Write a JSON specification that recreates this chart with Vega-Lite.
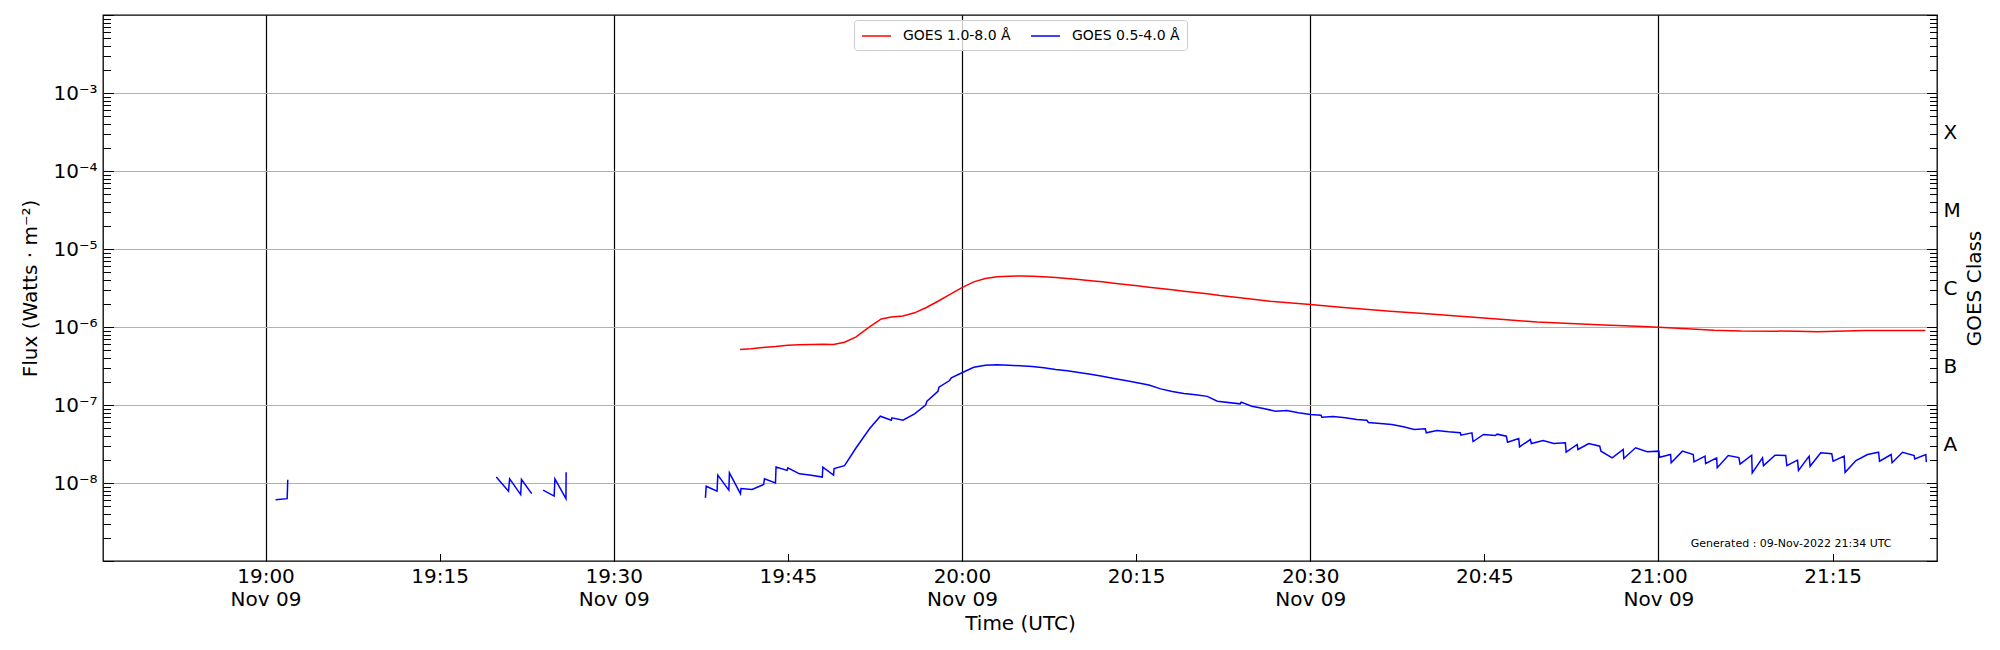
{
  "$schema": "https://vega.github.io/schema/vega-lite/v6.json",
  "width": 1834,
  "height": 546,
  "autosize": "none",
  "padding": {"left": 103, "top": 15, "right": 63, "bottom": 89},
  "config": {
    "font": "DejaVu Sans",
    "view": {"stroke": "black", "strokeWidth": 1.3},
    "axis": {"labelColor": "black", "titleColor": "black", "tickColor": "black", "titleFontWeight": "normal", "labelOverlap": false, "labelFlush": false, "domain": false}
  },
  "encoding": {
    "x": {
      "field": "t",
      "type": "temporal",
      "scale": {
        "type": "utc",
        "nice": false,
        "domain": [
          {"year": 2022, "month": 11, "date": 9, "hours": 18, "minutes": 46, "utc": true},
          {"year": 2022, "month": 11, "date": 9, "hours": 21, "minutes": 24, "utc": true}
        ]
      },
      "axis": {
        "title": "Time (UTC)",
        "titleFontSize": 20,
        "titlePadding": 4,
        "labelFontSize": 20,
        "labelLineHeight": 23,
        "labelPadding": 13,
        "tickSize": -7.5,
        "tickWidth": 1,
        "values": [
          {"year": 2022, "month": 11, "date": 9, "hours": 19, "minutes": 0, "utc": true},
          {"year": 2022, "month": 11, "date": 9, "hours": 19, "minutes": 15, "utc": true},
          {"year": 2022, "month": 11, "date": 9, "hours": 19, "minutes": 30, "utc": true},
          {"year": 2022, "month": 11, "date": 9, "hours": 19, "minutes": 45, "utc": true},
          {"year": 2022, "month": 11, "date": 9, "hours": 20, "minutes": 0, "utc": true},
          {"year": 2022, "month": 11, "date": 9, "hours": 20, "minutes": 15, "utc": true},
          {"year": 2022, "month": 11, "date": 9, "hours": 20, "minutes": 30, "utc": true},
          {"year": 2022, "month": 11, "date": 9, "hours": 20, "minutes": 45, "utc": true},
          {"year": 2022, "month": 11, "date": 9, "hours": 21, "minutes": 0, "utc": true},
          {"year": 2022, "month": 11, "date": 9, "hours": 21, "minutes": 15, "utc": true}
        ],
        "labelExpr": "utcminutes(datum.value) % 30 == 0 ? [utcFormat(datum.value, '%H:%M'), utcFormat(datum.value, '%b %d')] : utcFormat(datum.value, '%H:%M')",
        "grid": true,
        "gridColor": "black",
        "gridWidth": 1.2,
        "gridOpacity": {"condition": {"test": "utcminutes(datum.value) % 30 == 0", "value": 1}, "value": 0}
      }
    }
  },
  "layer": [
    {
      "data": {
        "values": [
          {"t": "2022-11-09T19:00:52Z", "flux": 6.1e-9, "s": "GOES 0.5-4.0 Å", "seg": "a"},
          {"t": "2022-11-09T19:01:52Z", "flux": 6.3e-9, "s": "GOES 0.5-4.0 Å", "seg": "a"},
          {"t": "2022-11-09T19:01:55Z", "flux": 1.1e-8, "s": "GOES 0.5-4.0 Å", "seg": "a"},
          {"t": "2022-11-09T19:19:53Z", "flux": 1.19e-8, "s": "GOES 0.5-4.0 Å", "seg": "b"},
          {"t": "2022-11-09T19:20:56Z", "flux": 7.85e-9, "s": "GOES 0.5-4.0 Å", "seg": "b"},
          {"t": "2022-11-09T19:21:02Z", "flux": 1.13e-8, "s": "GOES 0.5-4.0 Å", "seg": "b"},
          {"t": "2022-11-09T19:21:59Z", "flux": 7.1e-9, "s": "GOES 0.5-4.0 Å", "seg": "b"},
          {"t": "2022-11-09T19:22:03Z", "flux": 1.11e-8, "s": "GOES 0.5-4.0 Å", "seg": "b"},
          {"t": "2022-11-09T19:22:56Z", "flux": 7.3e-9, "s": "GOES 0.5-4.0 Å", "seg": "b"},
          {"t": "2022-11-09T19:23:55Z", "flux": 8.1e-9, "s": "GOES 0.5-4.0 Å", "seg": "c"},
          {"t": "2022-11-09T19:24:52Z", "flux": 6.8e-9, "s": "GOES 0.5-4.0 Å", "seg": "c"},
          {"t": "2022-11-09T19:24:56Z", "flux": 1.13e-8, "s": "GOES 0.5-4.0 Å", "seg": "c"},
          {"t": "2022-11-09T19:25:53Z", "flux": 6.3e-9, "s": "GOES 0.5-4.0 Å", "seg": "c"},
          {"t": "2022-11-09T19:25:54Z", "flux": 1.37e-8, "s": "GOES 0.5-4.0 Å", "seg": "c"},
          {"t": "2022-11-09T19:37:54Z", "flux": 6.45e-9, "s": "GOES 0.5-4.0 Å", "seg": "d"},
          {"t": "2022-11-09T19:37:58Z", "flux": 9.1e-9, "s": "GOES 0.5-4.0 Å", "seg": "d"},
          {"t": "2022-11-09T19:38:54Z", "flux": 7.85e-9, "s": "GOES 0.5-4.0 Å", "seg": "d"},
          {"t": "2022-11-09T19:38:58Z", "flux": 1.26e-8, "s": "GOES 0.5-4.0 Å", "seg": "d"},
          {"t": "2022-11-09T19:39:55Z", "flux": 8.1e-9, "s": "GOES 0.5-4.0 Å", "seg": "d"},
          {"t": "2022-11-09T19:39:58Z", "flux": 1.35e-8, "s": "GOES 0.5-4.0 Å", "seg": "d"},
          {"t": "2022-11-09T19:40:55Z", "flux": 7.3e-9, "s": "GOES 0.5-4.0 Å", "seg": "d"},
          {"t": "2022-11-09T19:40:58Z", "flux": 8.5e-9, "s": "GOES 0.5-4.0 Å", "seg": "d"},
          {"t": "2022-11-09T19:41:55Z", "flux": 8.26e-9, "s": "GOES 0.5-4.0 Å", "seg": "d"},
          {"t": "2022-11-09T19:42:55Z", "flux": 9.57e-9, "s": "GOES 0.5-4.0 Å", "seg": "d"},
          {"t": "2022-11-09T19:42:59Z", "flux": 1.13e-8, "s": "GOES 0.5-4.0 Å", "seg": "d"},
          {"t": "2022-11-09T19:43:56Z", "flux": 1.0e-8, "s": "GOES 0.5-4.0 Å", "seg": "d"},
          {"t": "2022-11-09T19:43:59Z", "flux": 1.6e-8, "s": "GOES 0.5-4.0 Å", "seg": "d"},
          {"t": "2022-11-09T19:44:56Z", "flux": 1.45e-8, "s": "GOES 0.5-4.0 Å", "seg": "d"},
          {"t": "2022-11-09T19:45:00Z", "flux": 1.57e-8, "s": "GOES 0.5-4.0 Å", "seg": "d"},
          {"t": "2022-11-09T19:46:00Z", "flux": 1.31e-8, "s": "GOES 0.5-4.0 Å", "seg": "d"},
          {"t": "2022-11-09T19:47:01Z", "flux": 1.26e-8, "s": "GOES 0.5-4.0 Å", "seg": "d"},
          {"t": "2022-11-09T19:47:58Z", "flux": 1.19e-8, "s": "GOES 0.5-4.0 Å", "seg": "d"},
          {"t": "2022-11-09T19:48:01Z", "flux": 1.6e-8, "s": "GOES 0.5-4.0 Å", "seg": "d"},
          {"t": "2022-11-09T19:48:56Z", "flux": 1.26e-8, "s": "GOES 0.5-4.0 Å", "seg": "d"},
          {"t": "2022-11-09T19:48:59Z", "flux": 1.53e-8, "s": "GOES 0.5-4.0 Å", "seg": "d"},
          {"t": "2022-11-09T19:49:53Z", "flux": 1.67e-8, "s": "GOES 0.5-4.0 Å", "seg": "d"},
          {"t": "2022-11-09T19:50:53Z", "flux": 2.83e-8, "s": "GOES 0.5-4.0 Å", "seg": "d"},
          {"t": "2022-11-09T19:52:02Z", "flux": 4.95e-8, "s": "GOES 0.5-4.0 Å", "seg": "d"},
          {"t": "2022-11-09T19:52:58Z", "flux": 7.18e-8, "s": "GOES 0.5-4.0 Å", "seg": "d"},
          {"t": "2022-11-09T19:53:55Z", "flux": 6.38e-8, "s": "GOES 0.5-4.0 Å", "seg": "d"},
          {"t": "2022-11-09T19:53:58Z", "flux": 6.85e-8, "s": "GOES 0.5-4.0 Å", "seg": "d"},
          {"t": "2022-11-09T19:54:55Z", "flux": 6.38e-8, "s": "GOES 0.5-4.0 Å", "seg": "d"},
          {"t": "2022-11-09T19:55:55Z", "flux": 7.7e-8, "s": "GOES 0.5-4.0 Å", "seg": "d"},
          {"t": "2022-11-09T19:56:52Z", "flux": 1.0e-7, "s": "GOES 0.5-4.0 Å", "seg": "d"},
          {"t": "2022-11-09T19:56:59Z", "flux": 1.12e-7, "s": "GOES 0.5-4.0 Å", "seg": "d"},
          {"t": "2022-11-09T19:57:56Z", "flux": 1.5e-7, "s": "GOES 0.5-4.0 Å", "seg": "d"},
          {"t": "2022-11-09T19:58:01Z", "flux": 1.69e-7, "s": "GOES 0.5-4.0 Å", "seg": "d"},
          {"t": "2022-11-09T19:58:56Z", "flux": 2.06e-7, "s": "GOES 0.5-4.0 Å", "seg": "d"},
          {"t": "2022-11-09T19:59:05Z", "flux": 2.23e-7, "s": "GOES 0.5-4.0 Å", "seg": "d"},
          {"t": "2022-11-09T20:00:00Z", "flux": 2.59e-7, "s": "GOES 0.5-4.0 Å", "seg": "d"},
          {"t": "2022-11-09T20:01:01Z", "flux": 3.05e-7, "s": "GOES 0.5-4.0 Å", "seg": "d"},
          {"t": "2022-11-09T20:02:01Z", "flux": 3.24e-7, "s": "GOES 0.5-4.0 Å", "seg": "d"},
          {"t": "2022-11-09T20:03:01Z", "flux": 3.28e-7, "s": "GOES 0.5-4.0 Å", "seg": "d"},
          {"t": "2022-11-09T20:04:02Z", "flux": 3.24e-7, "s": "GOES 0.5-4.0 Å", "seg": "d"},
          {"t": "2022-11-09T20:05:02Z", "flux": 3.18e-7, "s": "GOES 0.5-4.0 Å", "seg": "d"},
          {"t": "2022-11-09T20:06:03Z", "flux": 3.12e-7, "s": "GOES 0.5-4.0 Å", "seg": "d"},
          {"t": "2022-11-09T20:07:03Z", "flux": 3.0e-7, "s": "GOES 0.5-4.0 Å", "seg": "d"},
          {"t": "2022-11-09T20:08:04Z", "flux": 2.85e-7, "s": "GOES 0.5-4.0 Å", "seg": "d"},
          {"t": "2022-11-09T20:09:04Z", "flux": 2.74e-7, "s": "GOES 0.5-4.0 Å", "seg": "d"},
          {"t": "2022-11-09T20:10:04Z", "flux": 2.61e-7, "s": "GOES 0.5-4.0 Å", "seg": "d"},
          {"t": "2022-11-09T20:11:05Z", "flux": 2.48e-7, "s": "GOES 0.5-4.0 Å", "seg": "d"},
          {"t": "2022-11-09T20:12:05Z", "flux": 2.34e-7, "s": "GOES 0.5-4.0 Å", "seg": "d"},
          {"t": "2022-11-09T20:13:05Z", "flux": 2.19e-7, "s": "GOES 0.5-4.0 Å", "seg": "d"},
          {"t": "2022-11-09T20:14:05Z", "flux": 2.06e-7, "s": "GOES 0.5-4.0 Å", "seg": "d"},
          {"t": "2022-11-09T20:15:06Z", "flux": 1.93e-7, "s": "GOES 0.5-4.0 Å", "seg": "d"},
          {"t": "2022-11-09T20:16:06Z", "flux": 1.8e-7, "s": "GOES 0.5-4.0 Å", "seg": "d"},
          {"t": "2022-11-09T20:17:07Z", "flux": 1.61e-7, "s": "GOES 0.5-4.0 Å", "seg": "d"},
          {"t": "2022-11-09T20:18:07Z", "flux": 1.49e-7, "s": "GOES 0.5-4.0 Å", "seg": "d"},
          {"t": "2022-11-09T20:19:07Z", "flux": 1.4e-7, "s": "GOES 0.5-4.0 Å", "seg": "d"},
          {"t": "2022-11-09T20:20:08Z", "flux": 1.35e-7, "s": "GOES 0.5-4.0 Å", "seg": "d"},
          {"t": "2022-11-09T20:21:08Z", "flux": 1.29e-7, "s": "GOES 0.5-4.0 Å", "seg": "d"},
          {"t": "2022-11-09T20:22:00Z", "flux": 1.12e-7, "s": "GOES 0.5-4.0 Å", "seg": "d"},
          {"t": "2022-11-09T20:23:58Z", "flux": 1.035e-7, "s": "GOES 0.5-4.0 Å", "seg": "d"},
          {"t": "2022-11-09T20:24:03Z", "flux": 1.09e-7, "s": "GOES 0.5-4.0 Å", "seg": "d"},
          {"t": "2022-11-09T20:24:58Z", "flux": 9.66e-8, "s": "GOES 0.5-4.0 Å", "seg": "d"},
          {"t": "2022-11-09T20:25:58Z", "flux": 9.02e-8, "s": "GOES 0.5-4.0 Å", "seg": "d"},
          {"t": "2022-11-09T20:27:02Z", "flux": 8.33e-8, "s": "GOES 0.5-4.0 Å", "seg": "d"},
          {"t": "2022-11-09T20:27:59Z", "flux": 8.5e-8, "s": "GOES 0.5-4.0 Å", "seg": "d"},
          {"t": "2022-11-09T20:28:59Z", "flux": 7.94e-8, "s": "GOES 0.5-4.0 Å", "seg": "d"},
          {"t": "2022-11-09T20:30:01Z", "flux": 7.55e-8, "s": "GOES 0.5-4.0 Å", "seg": "d"},
          {"t": "2022-11-09T20:30:56Z", "flux": 7.41e-8, "s": "GOES 0.5-4.0 Å", "seg": "d"},
          {"t": "2022-11-09T20:31:00Z", "flux": 6.98e-8, "s": "GOES 0.5-4.0 Å", "seg": "d"},
          {"t": "2022-11-09T20:32:00Z", "flux": 7.13e-8, "s": "GOES 0.5-4.0 Å", "seg": "d"},
          {"t": "2022-11-09T20:33:01Z", "flux": 6.85e-8, "s": "GOES 0.5-4.0 Å", "seg": "d"},
          {"t": "2022-11-09T20:34:01Z", "flux": 6.52e-8, "s": "GOES 0.5-4.0 Å", "seg": "d"},
          {"t": "2022-11-09T20:34:53Z", "flux": 6.38e-8, "s": "GOES 0.5-4.0 Å", "seg": "d"},
          {"t": "2022-11-09T20:35:01Z", "flux": 5.97e-8, "s": "GOES 0.5-4.0 Å", "seg": "d"},
          {"t": "2022-11-09T20:36:02Z", "flux": 5.79e-8, "s": "GOES 0.5-4.0 Å", "seg": "d"},
          {"t": "2022-11-09T20:37:02Z", "flux": 5.62e-8, "s": "GOES 0.5-4.0 Å", "seg": "d"},
          {"t": "2022-11-09T20:38:02Z", "flux": 5.25e-8, "s": "GOES 0.5-4.0 Å", "seg": "d"},
          {"t": "2022-11-09T20:38:58Z", "flux": 4.85e-8, "s": "GOES 0.5-4.0 Å", "seg": "d"},
          {"t": "2022-11-09T20:39:55Z", "flux": 4.95e-8, "s": "GOES 0.5-4.0 Å", "seg": "d"},
          {"t": "2022-11-09T20:40:00Z", "flux": 4.4e-8, "s": "GOES 0.5-4.0 Å", "seg": "d"},
          {"t": "2022-11-09T20:40:55Z", "flux": 4.71e-8, "s": "GOES 0.5-4.0 Å", "seg": "d"},
          {"t": "2022-11-09T20:41:55Z", "flux": 4.53e-8, "s": "GOES 0.5-4.0 Å", "seg": "d"},
          {"t": "2022-11-09T20:42:56Z", "flux": 4.4e-8, "s": "GOES 0.5-4.0 Å", "seg": "d"},
          {"t": "2022-11-09T20:42:59Z", "flux": 4.1e-8, "s": "GOES 0.5-4.0 Å", "seg": "d"},
          {"t": "2022-11-09T20:43:56Z", "flux": 4.4e-8, "s": "GOES 0.5-4.0 Å", "seg": "d"},
          {"t": "2022-11-09T20:44:02Z", "flux": 3.4e-8, "s": "GOES 0.5-4.0 Å", "seg": "d"},
          {"t": "2022-11-09T20:44:56Z", "flux": 4.19e-8, "s": "GOES 0.5-4.0 Å", "seg": "d"},
          {"t": "2022-11-09T20:45:57Z", "flux": 4.06e-8, "s": "GOES 0.5-4.0 Å", "seg": "d"},
          {"t": "2022-11-09T20:46:06Z", "flux": 4.23e-8, "s": "GOES 0.5-4.0 Å", "seg": "d"},
          {"t": "2022-11-09T20:46:54Z", "flux": 3.98e-8, "s": "GOES 0.5-4.0 Å", "seg": "d"},
          {"t": "2022-11-09T20:47:00Z", "flux": 3.33e-8, "s": "GOES 0.5-4.0 Å", "seg": "d"},
          {"t": "2022-11-09T20:47:58Z", "flux": 3.72e-8, "s": "GOES 0.5-4.0 Å", "seg": "d"},
          {"t": "2022-11-09T20:48:02Z", "flux": 2.91e-8, "s": "GOES 0.5-4.0 Å", "seg": "d"},
          {"t": "2022-11-09T20:48:58Z", "flux": 3.61e-8, "s": "GOES 0.5-4.0 Å", "seg": "d"},
          {"t": "2022-11-09T20:49:03Z", "flux": 3.21e-8, "s": "GOES 0.5-4.0 Å", "seg": "d"},
          {"t": "2022-11-09T20:50:04Z", "flux": 3.51e-8, "s": "GOES 0.5-4.0 Å", "seg": "d"},
          {"t": "2022-11-09T20:50:59Z", "flux": 3.21e-8, "s": "GOES 0.5-4.0 Å", "seg": "d"},
          {"t": "2022-11-09T20:51:59Z", "flux": 3.27e-8, "s": "GOES 0.5-4.0 Å", "seg": "d"},
          {"t": "2022-11-09T20:52:03Z", "flux": 2.48e-8, "s": "GOES 0.5-4.0 Å", "seg": "d"},
          {"t": "2022-11-09T20:53:00Z", "flux": 3.12e-8, "s": "GOES 0.5-4.0 Å", "seg": "d"},
          {"t": "2022-11-09T20:53:04Z", "flux": 2.69e-8, "s": "GOES 0.5-4.0 Å", "seg": "d"},
          {"t": "2022-11-09T20:54:00Z", "flux": 3.21e-8, "s": "GOES 0.5-4.0 Å", "seg": "d"},
          {"t": "2022-11-09T20:54:57Z", "flux": 2.96e-8, "s": "GOES 0.5-4.0 Å", "seg": "d"},
          {"t": "2022-11-09T20:55:03Z", "flux": 2.56e-8, "s": "GOES 0.5-4.0 Å", "seg": "d"},
          {"t": "2022-11-09T20:56:01Z", "flux": 2.1e-8, "s": "GOES 0.5-4.0 Å", "seg": "d"},
          {"t": "2022-11-09T20:56:58Z", "flux": 2.69e-8, "s": "GOES 0.5-4.0 Å", "seg": "d"},
          {"t": "2022-11-09T20:57:01Z", "flux": 2.06e-8, "s": "GOES 0.5-4.0 Å", "seg": "d"},
          {"t": "2022-11-09T20:58:02Z", "flux": 2.83e-8, "s": "GOES 0.5-4.0 Å", "seg": "d"},
          {"t": "2022-11-09T20:59:02Z", "flux": 2.51e-8, "s": "GOES 0.5-4.0 Å", "seg": "d"},
          {"t": "2022-11-09T21:00:02Z", "flux": 2.56e-8, "s": "GOES 0.5-4.0 Å", "seg": "d"},
          {"t": "2022-11-09T21:00:06Z", "flux": 2.14e-8, "s": "GOES 0.5-4.0 Å", "seg": "d"},
          {"t": "2022-11-09T21:01:03Z", "flux": 2.32e-8, "s": "GOES 0.5-4.0 Å", "seg": "d"},
          {"t": "2022-11-09T21:01:06Z", "flux": 1.82e-8, "s": "GOES 0.5-4.0 Å", "seg": "d"},
          {"t": "2022-11-09T21:02:04Z", "flux": 2.56e-8, "s": "GOES 0.5-4.0 Å", "seg": "d"},
          {"t": "2022-11-09T21:03:00Z", "flux": 2.32e-8, "s": "GOES 0.5-4.0 Å", "seg": "d"},
          {"t": "2022-11-09T21:03:04Z", "flux": 1.87e-8, "s": "GOES 0.5-4.0 Å", "seg": "d"},
          {"t": "2022-11-09T21:04:01Z", "flux": 2.21e-8, "s": "GOES 0.5-4.0 Å", "seg": "d"},
          {"t": "2022-11-09T21:04:04Z", "flux": 1.78e-8, "s": "GOES 0.5-4.0 Å", "seg": "d"},
          {"t": "2022-11-09T21:05:01Z", "flux": 2.1e-8, "s": "GOES 0.5-4.0 Å", "seg": "d"},
          {"t": "2022-11-09T21:05:04Z", "flux": 1.57e-8, "s": "GOES 0.5-4.0 Å", "seg": "d"},
          {"t": "2022-11-09T21:06:01Z", "flux": 2.25e-8, "s": "GOES 0.5-4.0 Å", "seg": "d"},
          {"t": "2022-11-09T21:06:56Z", "flux": 2.12e-8, "s": "GOES 0.5-4.0 Å", "seg": "d"},
          {"t": "2022-11-09T21:07:02Z", "flux": 1.75e-8, "s": "GOES 0.5-4.0 Å", "seg": "d"},
          {"t": "2022-11-09T21:08:02Z", "flux": 2.27e-8, "s": "GOES 0.5-4.0 Å", "seg": "d"},
          {"t": "2022-11-09T21:08:05Z", "flux": 1.35e-8, "s": "GOES 0.5-4.0 Å", "seg": "d"},
          {"t": "2022-11-09T21:08:58Z", "flux": 2.1e-8, "s": "GOES 0.5-4.0 Å", "seg": "d"},
          {"t": "2022-11-09T21:09:03Z", "flux": 1.67e-8, "s": "GOES 0.5-4.0 Å", "seg": "d"},
          {"t": "2022-11-09T21:10:03Z", "flux": 2.27e-8, "s": "GOES 0.5-4.0 Å", "seg": "d"},
          {"t": "2022-11-09T21:10:58Z", "flux": 2.25e-8, "s": "GOES 0.5-4.0 Å", "seg": "d"},
          {"t": "2022-11-09T21:11:04Z", "flux": 1.67e-8, "s": "GOES 0.5-4.0 Å", "seg": "d"},
          {"t": "2022-11-09T21:11:59Z", "flux": 1.96e-8, "s": "GOES 0.5-4.0 Å", "seg": "d"},
          {"t": "2022-11-09T21:12:04Z", "flux": 1.45e-8, "s": "GOES 0.5-4.0 Å", "seg": "d"},
          {"t": "2022-11-09T21:12:59Z", "flux": 2.21e-8, "s": "GOES 0.5-4.0 Å", "seg": "d"},
          {"t": "2022-11-09T21:13:04Z", "flux": 1.64e-8, "s": "GOES 0.5-4.0 Å", "seg": "d"},
          {"t": "2022-11-09T21:13:59Z", "flux": 2.44e-8, "s": "GOES 0.5-4.0 Å", "seg": "d"},
          {"t": "2022-11-09T21:14:56Z", "flux": 2.37e-8, "s": "GOES 0.5-4.0 Å", "seg": "d"},
          {"t": "2022-11-09T21:15:03Z", "flux": 1.9e-8, "s": "GOES 0.5-4.0 Å", "seg": "d"},
          {"t": "2022-11-09T21:16:00Z", "flux": 2.21e-8, "s": "GOES 0.5-4.0 Å", "seg": "d"},
          {"t": "2022-11-09T21:16:05Z", "flux": 1.37e-8, "s": "GOES 0.5-4.0 Å", "seg": "d"},
          {"t": "2022-11-09T21:17:01Z", "flux": 1.94e-8, "s": "GOES 0.5-4.0 Å", "seg": "d"},
          {"t": "2022-11-09T21:18:01Z", "flux": 2.32e-8, "s": "GOES 0.5-4.0 Å", "seg": "d"},
          {"t": "2022-11-09T21:18:58Z", "flux": 2.48e-8, "s": "GOES 0.5-4.0 Å", "seg": "d"},
          {"t": "2022-11-09T21:19:03Z", "flux": 1.9e-8, "s": "GOES 0.5-4.0 Å", "seg": "d"},
          {"t": "2022-11-09T21:20:03Z", "flux": 2.32e-8, "s": "GOES 0.5-4.0 Å", "seg": "d"},
          {"t": "2022-11-09T21:20:08Z", "flux": 1.82e-8, "s": "GOES 0.5-4.0 Å", "seg": "d"},
          {"t": "2022-11-09T21:21:02Z", "flux": 2.48e-8, "s": "GOES 0.5-4.0 Å", "seg": "d"},
          {"t": "2022-11-09T21:22:02Z", "flux": 2.25e-8, "s": "GOES 0.5-4.0 Å", "seg": "d"},
          {"t": "2022-11-09T21:22:05Z", "flux": 2.04e-8, "s": "GOES 0.5-4.0 Å", "seg": "d"},
          {"t": "2022-11-09T21:23:02Z", "flux": 2.32e-8, "s": "GOES 0.5-4.0 Å", "seg": "d"},
          {"t": "2022-11-09T21:23:05Z", "flux": 1.85e-8, "s": "GOES 0.5-4.0 Å", "seg": "d"},
          {"t": "2022-11-09T19:40:53Z", "flux": 5.15e-7, "s": "GOES 1.0-8.0 Å", "seg": "r"},
          {"t": "2022-11-09T19:41:50Z", "flux": 5.25e-7, "s": "GOES 1.0-8.0 Å", "seg": "r"},
          {"t": "2022-11-09T19:42:50Z", "flux": 5.46e-7, "s": "GOES 1.0-8.0 Å", "seg": "r"},
          {"t": "2022-11-09T19:43:56Z", "flux": 5.62e-7, "s": "GOES 1.0-8.0 Å", "seg": "r"},
          {"t": "2022-11-09T19:45:00Z", "flux": 5.85e-7, "s": "GOES 1.0-8.0 Å", "seg": "r"},
          {"t": "2022-11-09T19:46:00Z", "flux": 5.9e-7, "s": "GOES 1.0-8.0 Å", "seg": "r"},
          {"t": "2022-11-09T19:47:01Z", "flux": 5.97e-7, "s": "GOES 1.0-8.0 Å", "seg": "r"},
          {"t": "2022-11-09T19:48:01Z", "flux": 6.03e-7, "s": "GOES 1.0-8.0 Å", "seg": "r"},
          {"t": "2022-11-09T19:48:56Z", "flux": 5.97e-7, "s": "GOES 1.0-8.0 Å", "seg": "r"},
          {"t": "2022-11-09T19:49:53Z", "flux": 6.39e-7, "s": "GOES 1.0-8.0 Å", "seg": "r"},
          {"t": "2022-11-09T19:50:53Z", "flux": 7.48e-7, "s": "GOES 1.0-8.0 Å", "seg": "r"},
          {"t": "2022-11-09T19:52:02Z", "flux": 1.005e-6, "s": "GOES 1.0-8.0 Å", "seg": "r"},
          {"t": "2022-11-09T19:53:03Z", "flux": 1.27e-6, "s": "GOES 1.0-8.0 Å", "seg": "r"},
          {"t": "2022-11-09T19:53:55Z", "flux": 1.34e-6, "s": "GOES 1.0-8.0 Å", "seg": "r"},
          {"t": "2022-11-09T19:54:55Z", "flux": 1.38e-6, "s": "GOES 1.0-8.0 Å", "seg": "r"},
          {"t": "2022-11-09T19:55:55Z", "flux": 1.52e-6, "s": "GOES 1.0-8.0 Å", "seg": "r"},
          {"t": "2022-11-09T19:56:56Z", "flux": 1.78e-6, "s": "GOES 1.0-8.0 Å", "seg": "r"},
          {"t": "2022-11-09T19:57:56Z", "flux": 2.14e-6, "s": "GOES 1.0-8.0 Å", "seg": "r"},
          {"t": "2022-11-09T19:58:56Z", "flux": 2.6e-6, "s": "GOES 1.0-8.0 Å", "seg": "r"},
          {"t": "2022-11-09T20:00:00Z", "flux": 3.2e-6, "s": "GOES 1.0-8.0 Å", "seg": "r"},
          {"t": "2022-11-09T20:01:01Z", "flux": 3.79e-6, "s": "GOES 1.0-8.0 Å", "seg": "r"},
          {"t": "2022-11-09T20:02:01Z", "flux": 4.19e-6, "s": "GOES 1.0-8.0 Å", "seg": "r"},
          {"t": "2022-11-09T20:03:01Z", "flux": 4.4e-6, "s": "GOES 1.0-8.0 Å", "seg": "r"},
          {"t": "2022-11-09T20:04:02Z", "flux": 4.48e-6, "s": "GOES 1.0-8.0 Å", "seg": "r"},
          {"t": "2022-11-09T20:05:02Z", "flux": 4.5e-6, "s": "GOES 1.0-8.0 Å", "seg": "r"},
          {"t": "2022-11-09T20:06:03Z", "flux": 4.48e-6, "s": "GOES 1.0-8.0 Å", "seg": "r"},
          {"t": "2022-11-09T20:07:03Z", "flux": 4.4e-6, "s": "GOES 1.0-8.0 Å", "seg": "r"},
          {"t": "2022-11-09T20:08:04Z", "flux": 4.31e-6, "s": "GOES 1.0-8.0 Å", "seg": "r"},
          {"t": "2022-11-09T20:09:04Z", "flux": 4.19e-6, "s": "GOES 1.0-8.0 Å", "seg": "r"},
          {"t": "2022-11-09T20:10:04Z", "flux": 4.06e-6, "s": "GOES 1.0-8.0 Å", "seg": "r"},
          {"t": "2022-11-09T20:11:05Z", "flux": 3.91e-6, "s": "GOES 1.0-8.0 Å", "seg": "r"},
          {"t": "2022-11-09T20:12:05Z", "flux": 3.79e-6, "s": "GOES 1.0-8.0 Å", "seg": "r"},
          {"t": "2022-11-09T20:13:05Z", "flux": 3.65e-6, "s": "GOES 1.0-8.0 Å", "seg": "r"},
          {"t": "2022-11-09T20:14:05Z", "flux": 3.51e-6, "s": "GOES 1.0-8.0 Å", "seg": "r"},
          {"t": "2022-11-09T20:15:06Z", "flux": 3.38e-6, "s": "GOES 1.0-8.0 Å", "seg": "r"},
          {"t": "2022-11-09T20:16:06Z", "flux": 3.24e-6, "s": "GOES 1.0-8.0 Å", "seg": "r"},
          {"t": "2022-11-09T20:17:07Z", "flux": 3.12e-6, "s": "GOES 1.0-8.0 Å", "seg": "r"},
          {"t": "2022-11-09T20:18:07Z", "flux": 3.0e-6, "s": "GOES 1.0-8.0 Å", "seg": "r"},
          {"t": "2022-11-09T20:19:07Z", "flux": 2.88e-6, "s": "GOES 1.0-8.0 Å", "seg": "r"},
          {"t": "2022-11-09T20:20:08Z", "flux": 2.77e-6, "s": "GOES 1.0-8.0 Å", "seg": "r"},
          {"t": "2022-11-09T20:21:08Z", "flux": 2.66e-6, "s": "GOES 1.0-8.0 Å", "seg": "r"},
          {"t": "2022-11-09T20:22:14Z", "flux": 2.53e-6, "s": "GOES 1.0-8.0 Å", "seg": "r"},
          {"t": "2022-11-09T20:23:58Z", "flux": 2.37e-6, "s": "GOES 1.0-8.0 Å", "seg": "r"},
          {"t": "2022-11-09T20:26:32Z", "flux": 2.14e-6, "s": "GOES 1.0-8.0 Å", "seg": "r"},
          {"t": "2022-11-09T20:30:01Z", "flux": 1.94e-6, "s": "GOES 1.0-8.0 Å", "seg": "r"},
          {"t": "2022-11-09T20:32:52Z", "flux": 1.78e-6, "s": "GOES 1.0-8.0 Å", "seg": "r"},
          {"t": "2022-11-09T20:36:54Z", "flux": 1.59e-6, "s": "GOES 1.0-8.0 Å", "seg": "r"},
          {"t": "2022-11-09T20:40:04Z", "flux": 1.48e-6, "s": "GOES 1.0-8.0 Å", "seg": "r"},
          {"t": "2022-11-09T20:43:48Z", "flux": 1.34e-6, "s": "GOES 1.0-8.0 Å", "seg": "r"},
          {"t": "2022-11-09T20:46:40Z", "flux": 1.25e-6, "s": "GOES 1.0-8.0 Å", "seg": "r"},
          {"t": "2022-11-09T20:49:33Z", "flux": 1.16e-6, "s": "GOES 1.0-8.0 Å", "seg": "r"},
          {"t": "2022-11-09T20:52:25Z", "flux": 1.11e-6, "s": "GOES 1.0-8.0 Å", "seg": "r"},
          {"t": "2022-11-09T20:55:18Z", "flux": 1.06e-6, "s": "GOES 1.0-8.0 Å", "seg": "r"},
          {"t": "2022-11-09T20:58:10Z", "flux": 1.02e-6, "s": "GOES 1.0-8.0 Å", "seg": "r"},
          {"t": "2022-11-09T21:00:00Z", "flux": 9.94e-7, "s": "GOES 1.0-8.0 Å", "seg": "r"},
          {"t": "2022-11-09T21:02:29Z", "flux": 9.48e-7, "s": "GOES 1.0-8.0 Å", "seg": "r"},
          {"t": "2022-11-09T21:04:47Z", "flux": 9.1e-7, "s": "GOES 1.0-8.0 Å", "seg": "r"},
          {"t": "2022-11-09T21:07:06Z", "flux": 8.9e-7, "s": "GOES 1.0-8.0 Å", "seg": "r"},
          {"t": "2022-11-09T21:11:59Z", "flux": 8.83e-7, "s": "GOES 1.0-8.0 Å", "seg": "r"},
          {"t": "2022-11-09T21:13:42Z", "flux": 8.7e-7, "s": "GOES 1.0-8.0 Å", "seg": "r"},
          {"t": "2022-11-09T21:17:42Z", "flux": 9.0e-7, "s": "GOES 1.0-8.0 Å", "seg": "r"},
          {"t": "2022-11-09T21:23:00Z", "flux": 9.0e-7, "s": "GOES 1.0-8.0 Å", "seg": "r"}
        ]
      },
      "mark": {"type": "line", "strokeWidth": 1.5},
      "encoding": {
        "y": {
          "field": "flux",
          "type": "quantitative",
          "scale": {"type": "log", "domain": [1e-9, 1e-2], "nice": false},
          "axis": {
            "title": "Flux (Watts · m⁻²)",
            "titleFontSize": 20,
            "titlePadding": 12,
            "labelFontSize": 20,
            "labelPadding": 16.5,
            "values": [1e-9, 2e-9, 3e-9, 4e-9, 5e-9, 6e-9, 7e-9, 8e-9, 9e-9, 1e-8, 2e-8, 3e-8, 4e-8, 5e-8, 6e-8, 7e-8, 8e-8, 9e-8, 1e-7, 2e-7, 3e-7, 4e-7, 5e-7, 6e-7, 7e-7, 8e-7, 9e-7, 1e-6, 2e-6, 3e-6, 4e-6, 5e-6, 6e-6, 7e-6, 8e-6, 9e-6, 1e-5, 2e-5, 3e-5, 4e-5, 5e-5, 6e-5, 7e-5, 8e-5, 9e-5, 1e-4, 2e-4, 3e-4, 4e-4, 5e-4, 6e-4, 7e-4, 8e-4, 9e-4, 1e-3, 2e-3, 3e-3, 4e-3, 5e-3, 6e-3, 7e-3, 8e-3, 9e-3, 1e-2],
            "labelExpr": "abs(log(datum.value)/LN10 - round(log(datum.value)/LN10)) < 0.01 ? (round(log(datum.value)/LN10) == -3 ? '10⁻³' : round(log(datum.value)/LN10) == -4 ? '10⁻⁴' : round(log(datum.value)/LN10) == -5 ? '10⁻⁵' : round(log(datum.value)/LN10) == -6 ? '10⁻⁶' : round(log(datum.value)/LN10) == -7 ? '10⁻⁷' : round(log(datum.value)/LN10) == -8 ? '10⁻⁸' : '') : ''",
            "tickSize": {"condition": {"test": "abs(log(datum.value)/LN10 - round(log(datum.value)/LN10)) < 0.01", "value": -10.5}, "value": -7.5},
            "tickWidth": 1,
            "grid": true,
            "gridColor": "#b0b0b0",
            "gridWidth": 1.1,
            "gridOpacity": {"condition": {"test": "abs(log(datum.value)/LN10 - round(log(datum.value)/LN10)) < 0.01 && datum.value > 2e-9 && datum.value < 5e-3", "value": 1}, "value": 0}
          }
        },
        "color": {
          "field": "s",
          "type": "nominal",
          "scale": {"domain": ["GOES 1.0-8.0 Å", "GOES 0.5-4.0 Å"], "range": ["#ff0000", "#0000ff"]},
          "legend": {
            "orient": "none",
            "legendX": 751,
            "legendY": 5,
            "direction": "horizontal",
            "columns": 2,
            "title": null,
            "symbolType": "M-1,0H2.625",
            "symbolSize": 256,
            "symbolStrokeWidth": 1.5,
            "labelFontSize": 14,
            "labelColor": "black",
            "labelOffset": 24,
            "columnPadding": 17,
            "padding": 7,
            "strokeColor": "#cccccc",
            "fillColor": "rgba(255,255,255,0.8)",
            "cornerRadius": 3
          }
        },
        "detail": {"field": "seg", "type": "nominal"}
      }
    },
    {
      "data": {"values": [{"t": "2022-11-09T21:11:26Z", "flux": 1.67e-9, "note": "Generated : 09-Nov-2022 21:34 UTC"}]},
      "mark": {"type": "text", "fontSize": 11, "align": "center", "baseline": "middle", "color": "black"},
      "encoding": {
        "text": {"field": "note", "type": "nominal"},
        "y": {
          "field": "flux",
          "type": "quantitative",
          "scale": {"type": "log", "domain": [1e-9, 1e-2], "nice": false},
          "axis": {
            "orient": "right",
            "title": "GOES Class",
            "titleFontSize": 20,
            "titleAngle": 270,
            "titleBaseline": "top",
            "titlePadding": 4,
            "labelFontSize": 20,
            "labelPadding": 13.5,
            "grid": false,
            "values": [1e-9, 2e-9, 3e-9, 4e-9, 5e-9, 6e-9, 7e-9, 8e-9, 9e-9, 1e-8, 2e-8, 3e-8, 4e-8, 5e-8, 6e-8, 7e-8, 8e-8, 9e-8, 1e-7, 2e-7, 3e-7, 4e-7, 5e-7, 6e-7, 7e-7, 8e-7, 9e-7, 1e-6, 2e-6, 3e-6, 4e-6, 5e-6, 6e-6, 7e-6, 8e-6, 9e-6, 1e-5, 2e-5, 3e-5, 4e-5, 5e-5, 6e-5, 7e-5, 8e-5, 9e-5, 1e-4, 2e-4, 3e-4, 4e-4, 5e-4, 6e-4, 7e-4, 8e-4, 9e-4, 1e-3, 2e-3, 3e-3, 4e-3, 5e-3, 6e-3, 7e-3, 8e-3, 9e-3, 1e-2, 3.1622776601683794e-8, 3.1622776601683795e-7, 3.1622776601683795e-6, 3.1622776601683795e-5, 3.1622776601683794e-4],
            "labelExpr": "abs(log(datum.value)/LN10 - round(log(datum.value)/LN10)) > 0.49 ? (round(2*log(datum.value)/LN10) == -15 ? 'A' : round(2*log(datum.value)/LN10) == -13 ? 'B' : round(2*log(datum.value)/LN10) == -11 ? 'C' : round(2*log(datum.value)/LN10) == -9 ? 'M' : round(2*log(datum.value)/LN10) == -7 ? 'X' : '') : ''",
            "tickSize": {"condition": {"test": "abs(log(datum.value)/LN10 - round(log(datum.value)/LN10)) < 0.01", "value": -10.5}, "value": -7.5},
            "tickOpacity": {"condition": {"test": "abs(log(datum.value)/LN10 - round(log(datum.value)/LN10)) > 0.49", "value": 0}, "value": 1},
            "tickWidth": 1
          }
        }
      }
    }
  ],
  "resolve": {"axis": {"y": "independent"}}
}
